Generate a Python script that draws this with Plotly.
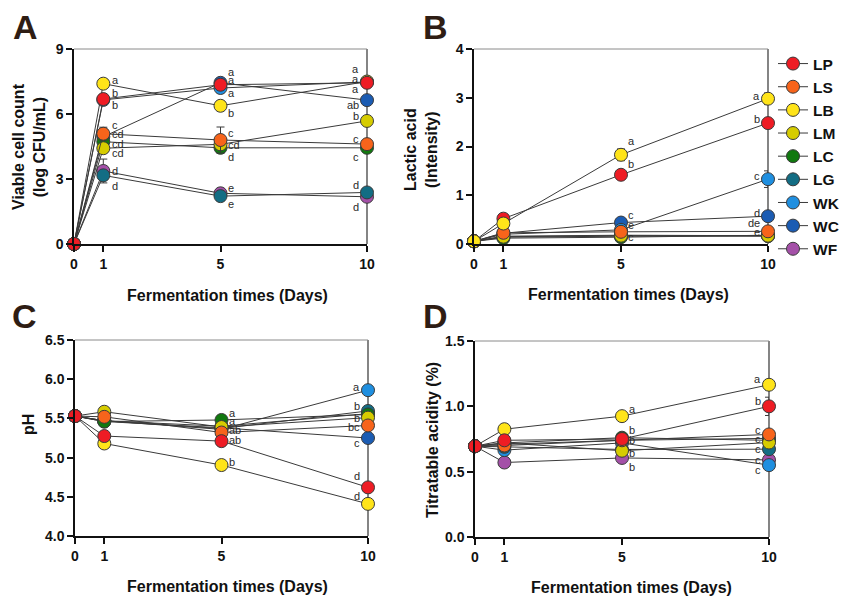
import plotly.graph_objects as go

W, H = 842, 596

days = [0, 1, 5, 10]
series = ["LP", "LS", "LB", "LM", "LC", "LG", "WK", "WC", "WF"]
colors = {"LP": "#ee1c24", "LS": "#f7641b", "LB": "#ffe419", "LM": "#d6cc00",
          "LC": "#11790f", "LG": "#136d84", "WK": "#1f8fe0", "WC": "#1b5cb3", "WF": "#a450a8"}

# Panel A: viable cell count (log CFU/mL)
A_vals = {
    "LP": [0, 6.69, 7.35, 7.44], "LS": [0, 5.09, 4.80, 4.61], "LB": [0, 7.40, 6.38, 7.50],
    "LM": [0, 4.42, 4.60, 5.68], "LC": [0, 4.72, 4.44, 4.44], "LG": [0, 3.17, 2.21, 2.38],
    "WK": [0, 6.65, 7.20, 7.48], "WC": [0, 4.95, 7.44, 6.64], "WF": [0, 3.37, 2.34, 2.18]}
A_err = {
    "LP": [0, 0.2, 0.1, 0.15], "LS": [0, 0.3, 0.6, 0.2], "LB": [0, 0.2, 0.15, 0.1],
    "LM": [0, 0.1, 0.1, 0.1], "LC": [0, 0.1, 0.1, 0.1], "LG": [0, 0.1, 0.1, 0.1],
    "WK": [0, 0.1, 0.1, 0.1], "WC": [0, 0.1, 0.1, 0.1], "WF": [0, 0.55, 0.1, 0.1]}
# Panel B: lactic acid (intensity)
B_vals = {
    "LP": [0.055, 0.52, 1.42, 2.48], "LS": [0.055, 0.23, 0.25, 0.26], "LB": [0.055, 0.42, 1.83, 2.98],
    "LM": [0.055, 0.15, 0.17, 0.17], "LC": [0.055, 0.12, 0.14, 0.18], "LG": [0.055, 0.14, 0.16, 0.16],
    "WK": [0.055, 0.20, 0.29, 1.33], "WC": [0.055, 0.22, 0.44, 0.57], "WF": [0.055, 0.16, 0.18, 0.17]}
B_err = {
    "LP": [0, 0.03, 0.04, 0.05], "LS": [0, 0.02, 0.02, 0.03], "LB": [0, 0.03, 0.12, 0.12],
    "LM": [0, 0.02, 0.02, 0.02], "LC": [0, 0.02, 0.02, 0.02], "LG": [0, 0.02, 0.02, 0.02],
    "WK": [0, 0.02, 0.03, 0.17], "WC": [0, 0.02, 0.03, 0.04], "WF": [0, 0.02, 0.02, 0.02]}
# Panel C: pH
C_vals = {
    "LP": [5.53, 5.275, 5.21, 4.62], "LS": [5.53, 5.52, 5.32, 5.41], "LB": [5.53, 5.18, 4.905, 4.41],
    "LM": [5.53, 5.585, 5.39, 5.51], "LC": [5.53, 5.46, 5.48, 5.55], "LG": [5.53, 5.47, 5.37, 5.595],
    "WK": [5.53, 5.47, 5.36, 5.86], "WC": [5.53, 5.46, 5.38, 5.25], "WF": [5.53, 5.47, 5.40, 5.56]}
C_err = {
    "LP": [0.07, 0.04, 0.02, 0.06], "LS": [0.07, 0.02, 0.02, 0.02], "LB": [0.07, 0.06, 0.02, 0.03],
    "LM": [0.07, 0.02, 0.02, 0.02], "LC": [0.07, 0.02, 0.02, 0.02], "LG": [0.07, 0.02, 0.02, 0.02],
    "WK": [0.07, 0.02, 0.02, 0.02], "WC": [0.07, 0.02, 0.02, 0.02], "WF": [0.07, 0.02, 0.02, 0.02]}
# Panel D: titratable acidity (%)
D_vals = {
    "LP": [0.695, 0.74, 0.75, 1.00], "LS": [0.695, 0.70, 0.74, 0.785], "LB": [0.695, 0.825, 0.925, 1.165],
    "LM": [0.695, 0.72, 0.66, 0.723], "LC": [0.695, 0.72, 0.76, 0.74], "LG": [0.695, 0.69, 0.67, 0.672],
    "WK": [0.695, 0.665, 0.72, 0.55], "WC": [0.695, 0.71, 0.74, 0.755], "WF": [0.695, 0.57, 0.605, 0.59]}
D_err = {
    "LP": [0.04, 0.03, 0.02, 0.07], "LS": [0.04, 0.02, 0.02, 0.03], "LB": [0.04, 0.02, 0.02, 0.04],
    "LM": [0.04, 0.02, 0.02, 0.02], "LC": [0.04, 0.02, 0.02, 0.02], "LG": [0.04, 0.02, 0.02, 0.02],
    "WK": [0.04, 0.02, 0.02, 0.02], "WC": [0.04, 0.02, 0.02, 0.02], "WF": [0.04, 0.02, 0.02, 0.02]}

# significance letters: (day, y position in data units, text)
A_letters = [(1, 7.57, "a"), (1, 6.95, "b"), (1, 6.41, "b"), (1, 5.49, "c"), (1, 5.06, "cd"),
             (1, 4.61, "cd"), (1, 4.18, "cd"), (1, 3.37, "d"), (1, 2.68, "d"),
             (5, 7.92, "a"), (5, 7.57, "a"), (5, 6.95, "a"), (5, 6.06, "b"), (5, 5.14, "c"),
             (5, 4.57, "cd"), (5, 4.0, "d"), (5, 2.57, "e"), (5, 1.85, "e"),
             (10, 8.06, "a"), (10, 7.61, "a"), (10, 7.17, "a"), (10, 6.40, "ab"), (10, 5.89, "b"),
             (10, 4.86, "c"), (10, 4.03, "c"), (10, 2.72, "d"), (10, 1.72, "d")]
B_letters = [(5, 2.11, "a"), (5, 1.64, "b"), (5, 0.59, "c"), (5, 0.40, "e"), (5, 0.14, "c"),
             (10, 3.04, "a"), (10, 2.57, "b"), (10, 1.39, "c"), (10, 0.64, "d"), (10, 0.43, "de"),
             (10, 0.25, "e")]
C_letters = [(5, 5.57, "a"), (5, 5.47, "a"), (5, 5.35, "ab"), (5, 5.23, "ab"), (5, 4.95, "b"),
             (10, 5.90, "a"), (10, 5.66, "b"), (10, 5.50, "b"), (10, 5.39, "bc"), (10, 5.19, "c"),
             (10, 4.76, "d"), (10, 4.51, "d")]
D_letters = [(5, 0.976, "a"), (5, 0.818, "b"), (5, 0.741, "b"), (5, 0.644, "b"), (5, 0.537, "b"),
             (10, 1.209, "a"), (10, 1.043, "b"), (10, 0.818, "c"), (10, 0.749, "c"), (10, 0.672, "c"),
             (10, 0.593, "c"), (10, 0.516, "c")]

A_yticks = [0, 3, 6, 9]
B_yticks = [0, 1, 2, 3, 4]
C_yticks = [4.0, 4.5, 5.0, 5.5, 6.0, 6.5]
D_yticks = [0.0, 0.5, 1.0, 1.5]
x_ticks = [0, 1, 5, 10]

y_titles = {"A": "Viable cell count<br>(log CFU/mL)", "B": "Lactic acid<br>(Intensity)",
            "C": "pH", "D": "Titratable acidity (%)"}
x_title = "Fermentation times (Days)"

# layout geometry in pixels: (left, right, top, bottom)
boxes = {"A": (74, 367, 49, 244), "B": (474, 768, 49, 244),
         "C": (75, 368, 340, 536), "D": (475, 769, 341, 537)}
panels = [
    ("A", "x", "y", A_vals, A_err, A_letters, [0, 9], A_yticks, "d"),
    ("B", "x2", "y2", B_vals, B_err, B_letters, [0, 4], B_yticks, "d"),
    ("C", "x3", "y3", C_vals, C_err, C_letters, [4, 6.5], C_yticks, ".1f"),
    ("D", "x4", "y4", D_vals, D_err, D_letters, [0, 1.5], D_yticks, ".1f"),
]

FONT = "Liberation Sans, Arial, sans-serif"
fig = go.Figure()

draw_order = list(reversed(series))
for name, xa, ya, vals, errs, letters, yr, yticks, fmt in panels:
    order = draw_order if name != "B" else [s for s in draw_order if s != "LB"] + ["LB"]
    for s in order:
        fig.add_trace(go.Scatter(
            x=days, y=vals[s], mode="lines+markers", name=s, xaxis=xa, yaxis=ya,
            legendgroup=s, showlegend=(name == "A"), cliponaxis=False,
            line=dict(color="#3a3a3a", width=1),
            marker=dict(color=colors[s], size=13, line=dict(color="#3a3a3a", width=1)),
            error_y=dict(type="data", array=errs[s], color="#3a3a3a", thickness=1, width=4),
        ))
    for d, yv, t in letters:
        right = d == 10
        fig.add_annotation(x=d, y=yv, xref=xa, yref=ya, text=t, showarrow=False,
                           xanchor="right" if right else "left",
                           xshift=-6 if right else (7 if d == 1 else 5),
                           font=dict(family=FONT, size=11, color="#2a2a2a"))

layout_axes = {}
for i, (name, xa, ya, vals, errs, letters, yr, yticks, fmt) in enumerate(panels):
    l, r, t, b = boxes[name]
    xk = "xaxis" if i == 0 else f"xaxis{i+1}"
    yk = "yaxis" if i == 0 else f"yaxis{i+1}"
    tickfont = dict(family=FONT, size=14, color="#111111", weight="bold")
    layout_axes[xk] = dict(domain=[l / W, r / W], anchor=ya, range=[0, 10],
                           tickmode="array", tickvals=x_ticks, ticks="outside", ticklen=6,
                           tickwidth=1.5, tickcolor="#111", showline=True, linecolor="#111",
                           linewidth=1.5, showgrid=False, zeroline=False, tickfont=tickfont,
                           automargin=False)
    layout_axes[yk] = dict(domain=[1 - b / H, 1 - t / H], anchor=xa, range=yr,
                           tickmode="array", tickvals=yticks, tickformat=fmt, ticks="outside",
                           ticklen=6, tickwidth=1.5, tickcolor="#111", showline=True,
                           linecolor="#111", linewidth=1.5, showgrid=False, zeroline=False,
                           tickfont=tickfont, automargin=False)
    fig.add_shape(type="line", xref=f"{xa} domain", yref=f"{ya} domain", x0=0, x1=1, y0=1, y1=1,
                  line=dict(color="#8a8a8a", width=1))
    fig.add_shape(type="line", xref=f"{xa} domain", yref=f"{ya} domain", x0=1, x1=1, y0=0, y1=1,
                  line=dict(color="#333333", width=1.2), layer="below")

fig.update_layout(**layout_axes)

title_font = dict(family=FONT, size=16, color="#111111", weight="bold")
x_title_pos = {"A": (227, 296), "B": (628, 295), "C": (227, 586), "D": (631, 587)}
y_title_pos = {"A": (29, 147), "B": (421, 150), "C": (28, 425), "D": (432, 440)}
letter_pos = {"A": (25, 27), "B": (435, 27), "C": (24, 316), "D": (436, 316)}
for name in ["A", "B", "C", "D"]:
    px, py = x_title_pos[name]
    fig.add_annotation(x=px / W, y=1 - py / H, xref="paper", yref="paper", text=x_title,
                       showarrow=False, font=title_font, xanchor="center", yanchor="middle")
    px, py = y_title_pos[name]
    fig.add_annotation(x=px / W, y=1 - py / H, xref="paper", yref="paper", text=y_titles[name],
                       showarrow=False, font=title_font, textangle=-90,
                       xanchor="center", yanchor="middle")
    px, py = letter_pos[name]
    fig.add_annotation(x=px / W, y=1 - py / H, xref="paper", yref="paper", text=name,
                       showarrow=False, xanchor="center", yanchor="middle",
                       font=dict(family=FONT, size=34, color="#2e1d14", weight="bold"))

fig.update_layout(
    width=W, height=H, margin=dict(l=0, r=0, t=0, b=0, pad=0, autoexpand=False),
    paper_bgcolor="white", plot_bgcolor="white",
    legend=dict(x=773 / W, y=1 - 47 / H, xanchor="left", yanchor="top",
                traceorder="reversed", font=dict(family=FONT, size=15.5, color="#111", weight="bold"),
                bgcolor="rgba(0,0,0,0)", tracegroupgap=0),
)

fig.write_html("out.html", config={"displayModeBar": False},
               post_script="document.body.style.margin='0';")
